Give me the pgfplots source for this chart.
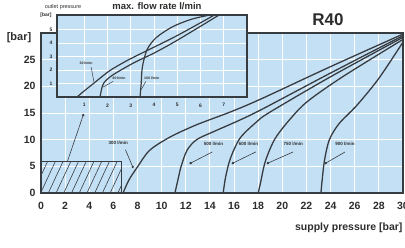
\documentclass[border=0pt]{standalone}
\usepackage{pgfplots}
\pgfplotsset{compat=1.18}
\usepackage{fontspec}
\setmainfont{Liberation Sans}
\usetikzlibrary{patterns.meta}
\definecolor{bgblue}{RGB}{196,224,245}
\definecolor{frame}{RGB}{55,60,65}
\definecolor{txt}{RGB}{45,45,45}
\begin{document}
\begin{tikzpicture}[x=1pt,y=1pt]
% ---------------- main axis ----------------
\begin{axis}[at={(41pt,54pt)}, anchor=south west, scale only axis,
  width=362pt, height=160pt,
  xmin=0, xmax=30, ymin=0, ymax=30,
  axis background/.style={fill=bgblue},
  grid=major, major grid style={white, line width=0.9pt},
  xtick={0,2,...,30}, ytick={0,5,...,25},
  major tick length=0pt,
  axis line style={frame, line width=1.2pt},
  tick label style={font=\fontsize{10.5}{11}\selectfont\bfseries, text=txt},
  xticklabel style={yshift=-6pt},
  yticklabel style={xshift=-2pt},
  /pgf/number format/assume math mode=true,
  clip=true]
% hatched region
\addplot[draw=frame, line width=1pt, pattern={Lines[angle=65,distance=7pt,line width=0.6pt]}, pattern color=frame]
  coordinates {(0,0)(0,6)(6.7,6)(6.7,0)(0,0)};
% curves
\addplot[frame, line width=1.3pt, smooth, tension=0.5] coordinates
  {(6.8,0)(7.3,2.5)(8.0,4.9)(9.0,8.0)(10.7,10.5)(12.9,12.8)(15.7,15.2)(18.2,17.6)(24,23.7)(30,29.8)};
\addplot[frame, line width=1.3pt, smooth, tension=0.5] coordinates
  {(11.1,0)(11.4,3)(11.6,4.9)(12.1,8.0)(12.9,10.0)(14.3,11.5)(16.5,13.7)(18.4,15.8)(24,22.5)(30,29.5)};
\addplot[frame, line width=1.3pt, smooth, tension=0.5] coordinates
  {(15.1,0)(15.3,3)(15.7,6.5)(16.5,10.3)(17.9,13.4)(19.0,15.2)(24,21.8)(30,29.2)};
\addplot[frame, line width=1.3pt, smooth, tension=0.5] coordinates
  {(18.0,0)(18.2,2)(18.6,6)(19.4,10.2)(20.7,14)(22.1,17.2)(25,21.8)(30,28.8)};
\addplot[frame, line width=1.3pt, smooth, tension=0.5] coordinates
  {(23.2,0)(23.3,2.4)(23.5,6.2)(23.9,10)(24.7,13)(26.2,16.5)(28,21.5)(30,28.3)};
% pointers
\addplot[frame, line width=0.6pt, mark=*, mark size=0.9pt, mark indices={2}] coordinates {(7.0,8.1)(7.6,4.9)};
\addplot[frame, line width=0.6pt, mark=*, mark size=0.9pt, mark indices={2}] coordinates {(14.2,7.7)(12.4,5.6)};
\addplot[frame, line width=0.6pt, mark=*, mark size=0.9pt, mark indices={2}] coordinates {(17.8,7.7)(15.9,5.6)};
\addplot[frame, line width=0.6pt, mark=*, mark size=0.9pt, mark indices={2}] coordinates {(20.9,7.7)(18.8,5.6)};
\addplot[frame, line width=0.6pt, mark=*, mark size=0.9pt, mark indices={2}] coordinates {(25.2,7.7)(23.6,5.6)};
\addplot[frame, line width=0.6pt, mark=*, mark size=0.9pt, mark indices={2}] coordinates {(2.2,6.0)(3.5,14.6)};
% labels
\node[font=\fontsize{4.5}{5}\selectfont\bfseries, text=txt] at (axis cs:6.4,9.4) {300 l/min};
\node[font=\fontsize{4.5}{5}\selectfont\bfseries, text=txt] at (axis cs:14.3,9.2) {500 l/min};
\node[font=\fontsize{4.5}{5}\selectfont\bfseries, text=txt] at (axis cs:17.2,9.2) {600 l/min};
\node[font=\fontsize{4.5}{5}\selectfont\bfseries, text=txt] at (axis cs:20.9,9.2) {750 l/min};
\node[font=\fontsize{4.5}{5}\selectfont\bfseries, text=txt] at (axis cs:25.2,9.2) {900 l/min};
\end{axis}
% ---------------- inset axis ----------------
\begin{axis}[at={(57pt,150pt)}, anchor=south west, scale only axis,
  width=190pt, height=82pt,
  xmin=-0.17, xmax=8, ymin=0, ymax=6.07,
  axis background/.style={fill=bgblue},
  grid=major, major grid style={white, line width=0.7pt},
  xtick={1,...,7}, ytick={1,...,5},
  major tick length=0pt,
  axis line style={frame, line width=1.2pt},
  tick label style={font=\fontsize{5}{5}\selectfont\bfseries, text=txt},
  xticklabel style={yshift=-3pt},
  yticklabel style={xshift=-1pt},
  /pgf/number format/assume math mode=true,
  clip=true]
\addplot[frame, line width=1.2pt, smooth, tension=0.5] coordinates
  {(0.69,0)(1.0,0.45)(1.4,1.0)(2.1,1.95)(2.9,2.75)(3.6,3.35)(5,4.55)(6.6,6.07)};
\addplot[frame, line width=1.2pt, smooth, tension=0.5] coordinates
  {(1.68,0)(1.75,0.6)(1.85,1.05)(2.2,1.6)(3.1,2.5)(4,3.25)(5,4.2)(6.8,6.07)};
\addplot[frame, line width=1.2pt, smooth, tension=0.5] coordinates
  {(3.4,0)(3.45,1.0)(3.5,2.2)(3.7,3.5)(4.1,4.4)(4.8,5.2)(5.6,5.75)(6.4,6.07)};
\addplot[frame, line width=0.5pt] coordinates {(1.3,2.2)(1.42,1.1)};
\addplot[frame, line width=0.5pt] coordinates {(2.24,1.15)(1.82,0.74)};
\addplot[frame, line width=0.5pt] coordinates {(3.65,1.15)(3.45,0.55)};
\node[font=\fontsize{3.5}{4}\selectfont\bfseries, text=txt] at (axis cs:1.08,2.5) {30 l/min};
\node[font=\fontsize{3.5}{4}\selectfont\bfseries, text=txt] at (axis cs:2.5,1.4) {60 l/min};
\node[font=\fontsize{3.5}{4}\selectfont\bfseries, text=txt] at (axis cs:3.9,1.4) {100 l/min};
\end{axis}
% ---------------- texts ----------------
\node[font=\fontsize{17}{17}\selectfont\bfseries, text=txt] at (328pt,227pt) {R40};
\node[font=\fontsize{9.5}{10}\selectfont\bfseries, text=txt] at (157pt,241pt) {max. flow rate l/min};
\node[font=\fontsize{5.5}{6}\selectfont, text=txt] at (63pt,240pt) {outlet pressure};
\node[font=\fontsize{5}{6}\selectfont\bfseries, text=txt] at (46pt,232pt) {[bar]};
\node[font=\fontsize{11}{12}\selectfont\bfseries, text=txt] at (19pt,209pt) {[bar]};
\node[anchor=east, font=\fontsize{10.5}{11}\selectfont\bfseries, text=txt] at (406pt,19pt) {supply pressure [bar]};
\pgfresetboundingbox
\useasboundingbox (0,0) rectangle (405pt,247pt);
\end{tikzpicture}
\end{document}
